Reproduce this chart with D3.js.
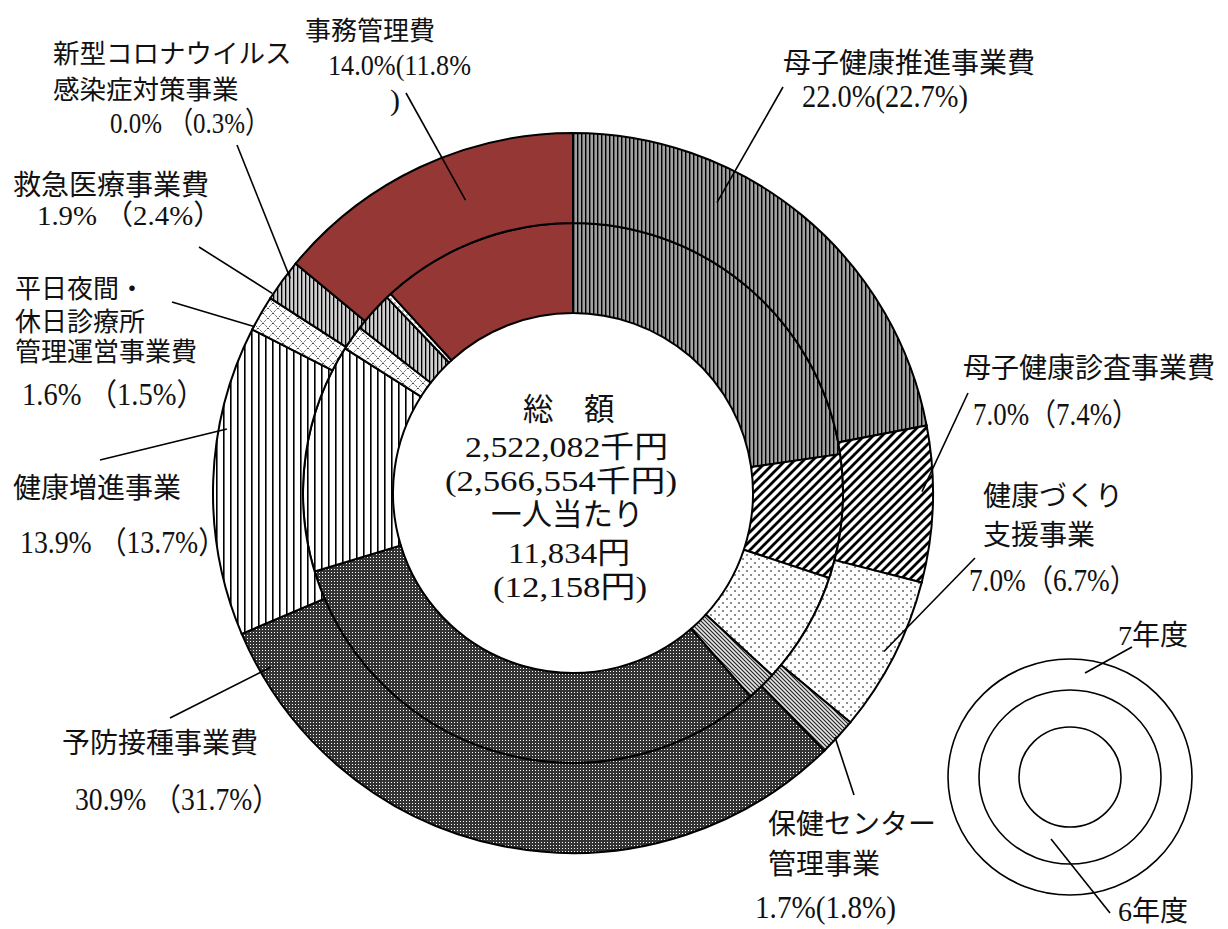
<!DOCTYPE html>
<html><head><meta charset="utf-8">
<script src="https://cdn.jsdelivr.net/npm/d3@7"></script>
<style>
body{margin:0;background:#fff}
svg{display:block}
text{white-space:pre}
</style>
</head><body>
<svg id="c" width="1228" height="929"></svg>
<script>
// ---------------- data ----------------
const categories = ["母子健康推進事業費","母子健康診査事業費","健康づくり支援事業","保健センター管理事業","予防接種事業費","健康増進事業","平日夜間・休日診療所管理運営事業費","救急医療事業費","新型コロナウイルス感染症対策事業","事務管理費"];
const labelLines = [["母子健康推進事業費"],["母子健康診査事業費"],["健康づくり","支援事業"],["保健センター","管理事業"],["予防接種事業費"],["健康増進事業"],["平日夜間・","休日診療所","管理運営事業費"],["救急医療事業費"],["新型コロナウイルス","感染症対策事業"],["事務管理費"]];
const values7 = [22.0, 7.0, 7.0, 1.7, 30.9, 13.9, 1.6, 1.9, 0.0, 14.0];   // 7年度 (outer ring)
const values6 = [22.7, 7.4, 6.7, 1.8, 31.7, 13.7, 1.5, 2.4, 0.3, 11.8];   // 6年度 (inner ring)
const pctStyle = ["half","full","full","half","fullsp","fullsp","fullsp","fullsp","fullsp","wrap"];
const years = ["7年度","6年度"];
const totalLabel = "総　額";
const total7 = 2522082, total6 = 2566554;
const perCapitaLabel = "一人当たり";
const perCapita7 = 11834, perCapita6 = 12158;

// ---------------- styles / layout ----------------
const W = 1228, H = 929;
const cx = 573, cy = 493;
const R0 = 180, R1 = 270, R2 = 360;
const fills = ["url(#p0)","url(#p1)","url(#p2)","url(#p3)","url(#p4)","url(#p5)","url(#p6)","url(#p7)","url(#p8)","#953735"];
const layout = [
  {x:783, ys:[72.5], fs:28, px:802, py:107, pl:166, pfs:31},
  {x:963, ys:[377.5], fs:28, px:973, py:425, pl:166, pfs:31},
  {x:983, ys:[505.5,544.5], fs:28, px:969, py:591, pl:168, pfs:31},
  {x:768, ys:[834,874], fs:28, px:755, py:918, pl:141, pfs:31},
  {x:62, ys:[752.5], fs:28, px:75, py:810, pl:205, pfs:31},
  {x:13, ys:[497.5], fs:28, px:20, py:553, pl:206, pfs:31},
  {x:15, ys:[298,331,361], fs:26, px:22, py:405, pl:183, pfs:31},
  {x:13, ys:[195], fs:28, px:37, py:225, pl:185, pfs:28},
  {x:53, ys:[63,99], fs:26.5, px:110, py:133, pl:160, pfs:30},
  {x:305, ys:[39.5], fs:26, px:328, py:75, pl:143, pfs:30, px2:390, py2:110}
];
// leader lines: t = fraction along the category's outer arc, r = radius, (x2,y2) label end
const leaders = [
  {t:0.333, r:324, x2:783, y2:87},
  {t:0.42, r:349, x2:968, y2:393},
  {t:0.5, r:349, x2:975, y2:558},
  {t:0.55, r:358, x2:854, y2:795},
  {t:0.938, r:349, x2:170, y2:718},
  {t:0.67, r:352, x2:100, y2:460},
  {t:0.1, r:359, x2:172, y2:302},
  {t:0.12, r:361, x2:199, y2:247},
  {t:0, r:355, da:-2.4, x2:237, y2:145},
  {t:0.6, r:312, x2:406, y2:93}
];

const svg = d3.select("#c");
const defs = svg.append("defs");
function pat(id, w, h, build) {
  const p = defs.append("pattern").attr("id", id).attr("patternUnits","userSpaceOnUse")
    .attr("width", w).attr("height", h);
  build(p);
}
pat("p0", 4, 10, p => { p.append("rect").attr("width",4).attr("height",10).attr("fill","#a0a0a0");
  p.append("rect").attr("width",1.4).attr("height",10).attr("fill","#000"); });
pat("p1", 9, 9, p => { p.append("rect").attr("width",9).attr("height",9).attr("fill","#fff");
  p.append("path").attr("d","M-2,11 L11,-2 M-2,2 L2,-2 M7,11 L11,7").attr("stroke","#000").attr("stroke-width",2.8); });
pat("p2", 8, 8, p => { p.append("rect").attr("width",8).attr("height",8).attr("fill","#fff");
  p.append("circle").attr("cx",2).attr("cy",2).attr("r",0.9).attr("fill","#555");
  p.append("circle").attr("cx",6).attr("cy",6).attr("r",0.9).attr("fill","#555"); });
pat("p3", 4, 4, p => { p.append("rect").attr("width",4).attr("height",4).attr("fill","#e4e4e4");
  p.append("path").attr("d","M0,0 L4,4 M-1,3 L1,5 M3,-1 L5,1").attr("stroke","#222").attr("stroke-width",1.1); });
pat("p4", 3, 3, p => { p.append("rect").attr("width",3).attr("height",3).attr("fill","#333");
  p.append("rect").attr("x",1).attr("y",1).attr("width",1).attr("height",1).attr("fill","#fff"); });
pat("p5", 7, 10, p => { p.append("rect").attr("width",7).attr("height",10).attr("fill","#fff");
  p.append("rect").attr("width",1.6).attr("height",10).attr("fill","#000"); });
pat("p6", 10, 10, p => { p.append("rect").attr("width",10).attr("height",10).attr("fill","#fff");
  p.append("path").attr("d","M0,0 L10,10 M10,0 L0,10").attr("stroke","#000").attr("stroke-width",1).attr("stroke-dasharray","1,1.4"); });
pat("p7", 4, 10, p => { p.append("rect").attr("width",4).attr("height",10).attr("fill","#cfcfcf");
  p.append("rect").attr("width",1.3).attr("height",10).attr("fill","#000"); });
pat("p8", 4, 4, p => { p.append("rect").attr("width",4).attr("height",4).attr("fill","#fff");
  p.append("circle").attr("cx",2).attr("cy",2).attr("r",0.7).attr("fill","#444"); });

// ---------------- pie ----------------
const pie = d3.pie().sort(null).value(d => d);
const arcsOuter = pie(values7), arcsInner = pie(values6);
const arcO = d3.arc().innerRadius(R1).outerRadius(R2);
const arcI = d3.arc().innerRadius(R0).outerRadius(R1);
const gp = svg.append("g").attr("transform", `translate(${cx},${cy})`);
gp.selectAll("path.in").data(arcsInner).join("path").attr("class","in")
  .attr("d", arcI).attr("fill", (d,i) => fills[i]).attr("stroke","#000").attr("stroke-width",2);
gp.selectAll("path.out").data(arcsOuter).join("path").attr("class","out")
  .attr("d", arcO).attr("fill", (d,i) => fills[i]).attr("stroke","#000").attr("stroke-width",2);

// leader lines
leaders.forEach((L, i) => {
  const a = arcsOuter[i];
  const ang = a.startAngle + L.t * (a.endAngle - a.startAngle) + (L.da || 0) * Math.PI / 180;
  svg.append("line")
    .attr("x1", cx + L.r * Math.sin(ang)).attr("y1", cy - L.r * Math.cos(ang))
    .attr("x2", L.x2).attr("y2", L.y2)
    .attr("stroke","#000").attr("stroke-width",1.6);
});

// ---------------- text helpers ----------------
const MIXED = "'Liberation Serif', 'Noto Sans CJK JP', serif";
function mixedText(str, x, y, fs, len) {
  const t = svg.append("text").attr("x", x).attr("y", y).attr("fill","#111")
    .attr("font-family", MIXED).attr("font-size", fs).text(str);
  if (len) t.attr("textLength", len).attr("lengthAdjust", "spacingAndGlyphs");
  return t;
}
function pctText(i) {
  const a = values7[i].toFixed(1), b = values6[i].toFixed(1);
  switch (pctStyle[i]) {
    case "half": return [`${a}%(${b}%)`];
    case "full": return [`${a}%（${b}%）`];
    case "fullsp": return [`${a}% （${b}%）`];
    case "wrap": return [`${a}%(${b}%`, `)`];
  }
}

// ---------------- category labels ----------------
categories.forEach((c, i) => {
  const L = layout[i];
  labelLines[i].forEach((ln, k) => mixedText(ln, L.x, L.ys[k], L.fs));
  const p = pctText(i);
  mixedText(p[0], L.px, L.py, L.pfs, L.pl);
  if (p[1]) mixedText(p[1], L.px2, L.py2, L.pfs);
});

// ---------------- center text ----------------
const fmt = d3.format(",");
mixedText(totalLabel, 523, 419.5, 30.5);
mixedText(`${fmt(total7)}千円`, 465, 457, 30, 203);
mixedText(`(${fmt(total6)}千円)`, 445, 491, 30, 232);
mixedText(perCapitaLabel, 491, 525, 30.5);
mixedText(`${fmt(perCapita7)}円`, 508, 562.5, 30, 122);
mixedText(`(${fmt(perCapita6)}円)`, 493, 597, 30, 154);

// ---------------- legend ----------------
const lg = svg.append("g");
[[122,118],[91,87],[51,50]].forEach(([rx, ry]) =>
  lg.append("ellipse").attr("cx",1070).attr("cy",777).attr("rx",rx).attr("ry",ry)
    .attr("fill","none").attr("stroke","#000").attr("stroke-width",1.6));
lg.append("line").attr("x1",1085).attr("y1",673).attr("x2",1132).attr("y2",647).attr("stroke","#000").attr("stroke-width",1.6);
lg.append("line").attr("x1",1051).attr("y1",839).attr("x2",1110).attr("y2",913).attr("stroke","#000").attr("stroke-width",1.6);
mixedText(years[0], 1118, 645, 28, 70);
mixedText(years[1], 1118, 921, 28, 70);
</script>
</body></html>
